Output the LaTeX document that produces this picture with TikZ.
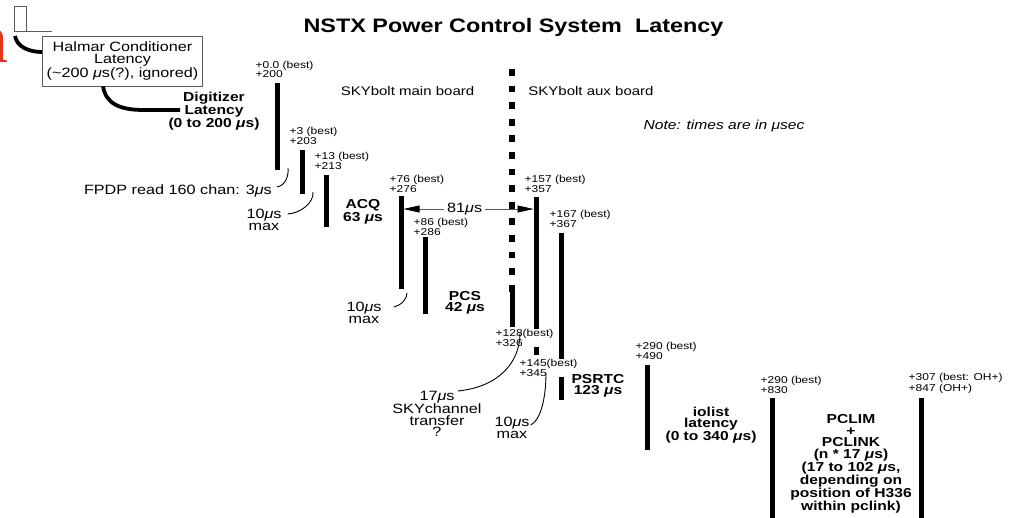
\documentclass[tikz,border=0pt]{standalone}
\usepackage{fontspec}
\setmainfont{Liberation Sans}[FakeStretch=1.2]
\newfontfamily\markfont{Liberation Serif}
\usepackage{xcolor}
\usepackage{tikz}
\usetikzlibrary{arrows.meta,positioning}
\definecolor{LatencyGrey}{HTML}{5A5A5A}
\definecolor{LatencyRed}{HTML}{E8341C}
\newcommand{\mus}{\textit{μ}s}

\begin{document}
\begin{tikzpicture}[
  x=1pt, y=-1pt,
  timebar/.style={line width=5pt},
  boardline/.style={line width=6pt, dash pattern=on 6.7pt off 9.9pt},
  timelbl/.style={font=\fontsize{10}{9.3}\selectfont, align=left, inner sep=0.5pt, fill=white},
  phaselbl/.style={font=\bfseries\fontsize{13}{11.6}\selectfont, align=center, inner sep=0pt},
  notelbl/.style={font=\fontsize{13.5}{11.5}\selectfont, align=center, inner sep=0pt},
  boardlbl/.style={font=\fontsize{12.5}{14}\selectfont, inner sep=0pt, anchor=base},
  leader/.style={line width=0.9pt},
  thickleader/.style={line width=3.8pt},
  spanarrow/.style={{Triangle[length=16pt,width=7pt,color=black]}-{Triangle[length=16pt,width=7pt,color=black]}, line width=0.6pt, draw=LatencyGrey}
]
\useasboundingbox (0,0) rectangle (1015,517);
% pulse and conditioner
\node[anchor=base east, inner sep=0pt, text=LatencyRed, font=\markfont\fontsize{70}{70}\selectfont] (redmark) at (9,62) {n};
\draw[draw=LatencyGrey, line width=0.8pt] (14,31.5) -- (14,6) -- (26,6) -- (26,31.5);
\draw[draw=LatencyGrey, line width=0.8pt] (14,31.5) -- (52,31.5);
\node[draw=LatencyGrey, line width=0.8pt, minimum width=160pt, minimum height=50pt, align=center, inner sep=0pt, font=\fontsize{13.5}{12}\selectfont] (halmar) at (122.5,61) {Halmar Conditioner\\Latency\\(\textasciitilde200 \mus(?), ignored)};
\node[anchor=base, inner sep=0pt, font=\bfseries\fontsize{19.5}{22}\selectfont] (title) at (513.5,32) {NSTX Power Control System\ \ Latency};
\node[boardlbl] (mainboard) at (407.5,95) {SKYbolt main board};
\node[boardlbl] (auxboard) at (591,95) {SKYbolt aux board};
\node[boardlbl, font=\itshape\fontsize{13}{14}\selectfont] (note) at (724,129) {Note: times are in μsec};
% bars
\coordinate (t0top) at (277,83);    \coordinate (t0bot) at (277,170);
\coordinate (t3top) at (302,150);   \coordinate (t3bot) at (302,194);
\coordinate (t13top) at (326,175);  \coordinate (t13bot) at (326,227);
\coordinate (t76top) at (401,196);  \coordinate (t76bot) at (401,289);
\coordinate (t86top) at (425,237);  \coordinate (t86bot) at (425,314);
\coordinate (t128top) at (512,285); \coordinate (t128bot) at (512,327);
\coordinate (t157top) at (536,197); \coordinate (t157bot) at (536,355);
\coordinate (t167top) at (561,233); \coordinate (t167bot) at (561,400);
\coordinate (t290top) at (647,365); \coordinate (t290bot) at (647,450);
\coordinate (t830top) at (772,398); \coordinate (t830bot) at (772,520);
\coordinate (t847top) at (921,398); \coordinate (t847bot) at (921,520);
\coordinate (boardtop) at (512,69); \coordinate (boardbot) at (512,292);
\draw[boardline] (boardtop) -- (boardbot);
\draw[timebar] (t0top) -- (t0bot);
\draw[timebar] (t3top) -- (t3bot);
\draw[timebar] (t13top) -- (t13bot);
\draw[timebar] (t76top) -- (t76bot);
\draw[timebar] (t86top) -- (t86bot);
\draw[timebar] (t128top) -- (t128bot);
\draw[timebar] (t157top) -- (t157bot);
\draw[timebar] (t167top) -- (t167bot);
\draw[timebar] (t290top) -- (t290bot);
\draw[timebar] (t830top) -- (t830bot);
\draw[timebar] (t847top) -- (t847bot);
% time stamps
\node[timelbl, above right=4.5pt and -22pt of t0top] (t0lbl) {+0.0 (best)\\+200};
\node[timelbl, above right=5pt and -13pt of t3top] (t3lbl) {+3 (best)\\+203};
\node[timelbl, above right=5pt and -12pt of t13top] (t13lbl) {+13 (best)\\+213};
\node[timelbl, above right=3pt and -12pt of t76top] (t76lbl) {+76 (best)\\+276};
\node[timelbl, above right=1pt and -12pt of t86top] (t86lbl) {+86 (best)\\+286};
\node[timelbl, above right=4pt and -12pt of t157top] (t157lbl) {+157 (best)\\+357};
\node[timelbl, above right=5pt and -12pt of t167top] (t167lbl) {+167 (best)\\+367};
\node[timelbl, above right=5pt and -12pt of t290top] (t290lbl) {+290 (best)\\+490};
\node[timelbl, above right=4pt and -12pt of t830top] (t830lbl) {+290 (best)\\+830};
\node[timelbl, above right=4pt and -13pt of t847top] (t847lbl) {+307 (best: OH+)\\+847 (OH+)};
\node[timelbl, below right=2pt and -17pt of t128bot] (t128lbl) {+128(best)\\+326};
\node[timelbl, below right=4pt and -17pt of t157bot] (t145lbl) {+145(best)\\+345};
% phases
\node[phaselbl] (digitizer) at (214,111) {Digitizer\\Latency\\(0 to 200 \mus)};
\node[phaselbl] (acq) at (363,212) {ACQ\\63 \mus};
\node[phaselbl] (pcs) at (465,303) {PCS\\42 \mus};
\node[phaselbl] (psrtc) at (598,386) {PSRTC\\123 \mus};
\node[phaselbl] (iolist) at (711,425) {iolist\\latency\\(0 to 340 \mus)};
\node[phaselbl] (pclim) at (851,464) {PCLIM\\+\\PCLINK\\(n * 17 \mus)\\(17 to 102 \mus,\\depending on\\position of H336\\within pclink)};
% notes
\node[notelbl, anchor=base east] (fpdp) at (272,194) {FPDP read 160 chan: 3\mus};
\node[notelbl] (tenA) at (264,220) {10\mus\\max};
\node[notelbl] (tenB) at (364,313) {10\mus\\max};
\node[notelbl] (sky) at (437,414) {17\mus\\SKYchannel\\transfer\\?};
\node[notelbl] (tenC) at (512,428) {10\mus\\max};
% leaders
\coordinate (fpdpend) at (288,168);
\coordinate (tenAend) at (313,192);
\coordinate (tenBend) at (407,293);
\coordinate (skyend) at (520,333);
\coordinate (tenCend) at (546,373);
\draw[leader] ([xshift=5pt,yshift=3.5pt]fpdp.east) .. controls +(8,-1) and +(1,8) .. (fpdpend);
\draw[leader] ([xshift=6pt,yshift=6pt]tenA.east) .. controls +(14,-1) and +(1,10) .. (tenAend);
\draw[leader] ([xshift=12pt,yshift=6pt]tenB.east) .. controls +(8,-2) and +(0,6) .. (tenBend);
\draw[leader] ([xshift=21pt]sky.north) .. controls +(40,-4) and +(0,30) .. (skyend);
\draw[leader] ([xshift=1pt,yshift=3pt]tenC.east) .. controls +(10,-5) and +(0,25) .. (tenCend);
\draw[thickleader] ([xshift=-107.5pt,yshift=25pt]halmar.center) .. controls +(2,11) and +(-13,0) .. ([yshift=9pt]halmar.west);
\draw[thickleader] ([xshift=-19.5pt]halmar.south) .. controls +(3,17) and +(-25,0) .. ([xshift=-70pt,yshift=1pt]digitizer.center) -- ([xshift=-34pt,yshift=1pt]digitizer.center);
% span
\coordinate (spanL) at (403.5,209);
\coordinate (spanR) at (533.5,209);
\draw[spanarrow] (spanL) -- node[notelbl, fill=white, inner xsep=3pt, pos=0.47] (span) {81\mus} (spanR);
\end{tikzpicture}
\end{document}
